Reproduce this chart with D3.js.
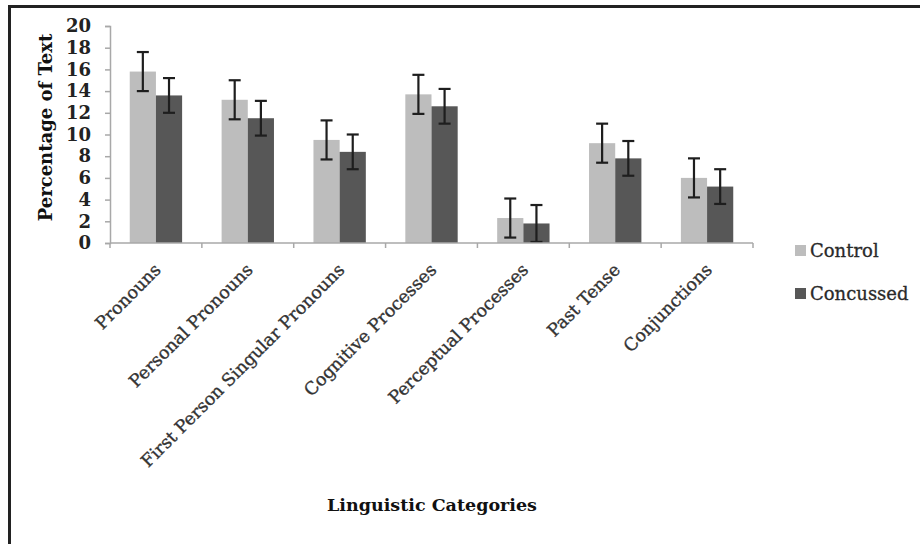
<!DOCTYPE html>
<html>
<head>
<meta charset="utf-8">
<script src="https://cdn.jsdelivr.net/npm/d3@7"></script>
<style>
  html, body { margin: 0; padding: 0; background: #fff; }
  svg { display: block; }
</style>
</head>
<body>
<svg id="chart" width="920" height="544"></svg>
<script>
const categories = ["Pronouns", "Personal Pronouns", "First Person Singular Pronouns", "Cognitive Processes", "Perceptual Processes", "Past Tense", "Conjunctions"];
const seriesNames = ["Control", "Concussed"];
const controlValues = [15.8, 13.2, 9.5, 13.7, 2.3, 9.2, 6.0];
const concussedValues = [13.6, 11.5, 8.4, 12.6, 1.8, 7.8, 5.2];
const controlErrors = [1.8, 1.8, 1.8, 1.8, 1.8, 1.8, 1.8];
const concussedErrors = [1.6, 1.6, 1.6, 1.6, 1.7, 1.6, 1.6];
const yTicks = [0, 2, 4, 6, 8, 10, 12, 14, 16, 18, 20];
const colors = ["#bdbdbd", "#575757"];

const svg = d3.select("#chart");
const font = "'DejaVu Serif', 'Liberation Serif', serif";

// frame (top & left borders visible)
svg.append("rect").attr("x", 9.5).attr("y", 6.5).attr("width", 930).attr("height", 560)
  .attr("fill", "none").attr("stroke", "#222").attr("stroke-width", 3);

const plot = { left: 110, right: 753, top: 26, bottom: 243 };

const x0 = d3.scaleBand().domain(categories).range([plot.left, plot.right]).padding(0);
const bw = x0.bandwidth();
const x1 = d3.scaleBand().domain(seriesNames).range([bw * 0.215, bw * 0.785]).padding(0);
const y = d3.scaleLinear().domain([0, 20]).range([plot.bottom, plot.top]);

const data = categories.map((c, i) => ({
  cat: c,
  vals: [
    { s: "Control", v: controlValues[i], e: controlErrors[i] },
    { s: "Concussed", v: concussedValues[i], e: concussedErrors[i] }
  ]
}));

// y axis
const yAxis = svg.append("g").attr("transform", `translate(${plot.left},0)`)
  .call(d3.axisLeft(y).tickValues(yTicks).tickSize(5).tickPadding(14));
yAxis.select(".domain").attr("stroke", "#a8a8a8").attr("stroke-width", 1.5);
yAxis.selectAll(".tick line").attr("stroke", "#a8a8a8").attr("stroke-width", 1.5);
yAxis.selectAll(".tick text").attr("font-family", font).attr("font-size", 18)
  .attr("font-weight", "bold").attr("fill", "#222");

// groups & bars
const groups = svg.append("g").selectAll("g").data(data).join("g")
  .attr("transform", d => `translate(${x0(d.cat)},0)`);
groups.selectAll("rect").data(d => d.vals).join("rect")
  .attr("x", d => x1(d.s))
  .attr("y", d => y(d.v))
  .attr("width", x1.bandwidth())
  .attr("height", d => y(0) - y(d.v))
  .attr("fill", (d, i) => colors[i]);

// error bars
const eb = groups.selectAll("g.err").data(d => d.vals).join("g").attr("class", "err")
  .attr("stroke", "#1e1e1e").attr("stroke-width", 2.2);
eb.append("line")
  .attr("x1", d => x1(d.s) + x1.bandwidth() / 2).attr("x2", d => x1(d.s) + x1.bandwidth() / 2)
  .attr("y1", d => y(d.v + d.e)).attr("y2", d => y(d.v - d.e));
eb.append("line")
  .attr("x1", d => x1(d.s) + x1.bandwidth() / 2 - 6).attr("x2", d => x1(d.s) + x1.bandwidth() / 2 + 6)
  .attr("y1", d => y(d.v + d.e)).attr("y2", d => y(d.v + d.e));
eb.append("line")
  .attr("x1", d => x1(d.s) + x1.bandwidth() / 2 - 6).attr("x2", d => x1(d.s) + x1.bandwidth() / 2 + 6)
  .attr("y1", d => y(d.v - d.e)).attr("y2", d => y(d.v - d.e));

// x axis
const xAxisG = svg.append("g").attr("transform", `translate(0,${plot.bottom})`);
xAxisG.append("line").attr("x1", plot.left).attr("x2", plot.right)
  .attr("stroke", "#a8a8a8").attr("stroke-width", 1.5);
const boundaries = categories.map(c => x0(c)).concat([plot.right]);
xAxisG.selectAll("line.tk").data(boundaries).join("line").attr("class", "tk")
  .attr("x1", d => d).attr("x2", d => d).attr("y1", 0).attr("y2", 5)
  .attr("stroke", "#a8a8a8").attr("stroke-width", 1.5);
xAxisG.selectAll("text").data(categories).join("text")
  .attr("transform", d => `translate(${x0(d) + bw / 2 + 6},${28}) rotate(-45)`)
  .attr("text-anchor", "end")
  .attr("font-family", font).attr("font-size", 17.5)
  .attr("fill", "#333").attr("stroke", "#333").attr("stroke-width", 0.35)
  .text(d => d);

// axis titles
svg.append("text")
  .attr("transform", `translate(52,${(plot.top + plot.bottom) / 2 - 7}) rotate(-90)`)
  .attr("text-anchor", "middle")
  .attr("font-family", font).attr("font-size", 18).attr("font-weight", "bold").attr("fill", "#111")
  .text("Percentage of Text");
svg.append("text")
  .attr("x", 432).attr("y", 511)
  .attr("text-anchor", "middle")
  .attr("font-family", font).attr("font-size", 17.5).attr("font-weight", "bold").attr("fill", "#111")
  .text("Linguistic Categories");

// legend
const legend = svg.append("g").selectAll("g").data(seriesNames).join("g")
  .attr("transform", (d, i) => `translate(795,${245 + i * 43})`);
legend.append("rect").attr("width", 11).attr("height", 11).attr("fill", (d, i) => colors[i]);
legend.append("text").attr("x", 15).attr("y", 6).attr("dy", "0.36em")
  .attr("font-family", font).attr("font-size", 18).attr("fill", "#2a2a2a")
  .attr("stroke", "#2a2a2a").attr("stroke-width", 0.3)
  .text(d => d);
</script>
</body>
</html>
